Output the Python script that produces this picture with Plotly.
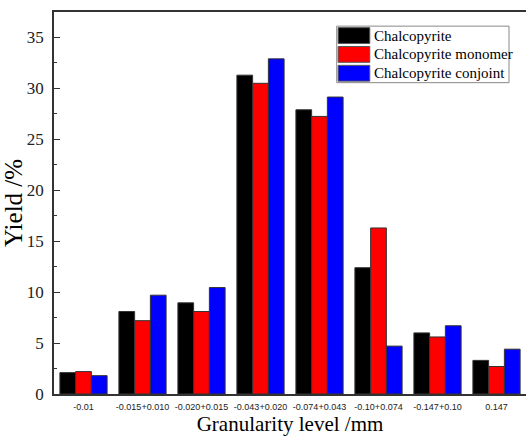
import plotly.graph_objects as go

categories = ["-0.01", "-0.015+0.010", "-0.020+0.015", "-0.043+0.020",
              "-0.074+0.043", "-0.10+0.074", "-0.147+0.10", "0.147"]
chalcopyrite = [2.1, 8.1, 8.95, 31.3, 27.9, 12.4, 6.0, 3.3]
monomer = [2.2, 7.2, 8.1, 30.5, 27.25, 16.3, 5.6, 2.7]
conjoint = [1.8, 9.7, 10.45, 32.9, 29.15, 4.7, 6.7, 4.4]
series_names = ["Chalcopyrite", "Chalcopyrite monomer", "Chalcopyrite conjoint"]
series_colors = ["#000000", "#ff0000", "#0000ff"]
series_values = [chalcopyrite, monomer, conjoint]

fig = go.Figure()
for name, vals, col in zip(series_names, series_values, series_colors):
    fig.add_trace(go.Bar(x=categories, y=vals, name=name, marker_color=col,
                         marker_line=dict(color="#333333", width=1), showlegend=False))

serif = "Liberation Serif, Times New Roman, serif"

# custom legend box
lx0, lx1, ly0, ly1 = 0.599, 0.964, 0.815, 0.963
fig.add_shape(type="rect", xref="paper", yref="paper", x0=lx0, x1=lx1, y0=ly0, y1=ly1,
              line=dict(color="#888888", width=1), fillcolor="white")
row_h = (ly1 - ly0) / 3
for i, (name, col) in enumerate(zip(series_names, series_colors)):
    top = ly1 - i * row_h
    fig.add_shape(type="rect", xref="paper", yref="paper", x0=0.602, x1=0.669,
                  y0=top - row_h + 0.004, y1=top - 0.004,
                  line=dict(color="#555555", width=1), fillcolor=col)
    fig.add_annotation(xref="paper", yref="paper", x=0.673, y=top - row_h / 2,
                       text=name, showarrow=False, xanchor="left", yanchor="middle",
                       font=dict(family=serif, size=15, color="black"))

fig.update_layout(
    width=526, height=437,
    margin=dict(l=54, r=0, t=12, b=43),
    paper_bgcolor="white", plot_bgcolor="white",
    barmode="group", bargap=0.2, bargroupgap=0,
    xaxis=dict(type="category", range=[-0.5, 7.5], showline=True, linecolor="#333333",
               linewidth=1.5, mirror=True, ticks="", showgrid=False, ticklabelstandoff=3,
               tickfont=dict(family="Liberation Sans, Arial", size=9, color="#222222"),
               title=dict(text="Granularity level /mm", font=dict(family=serif, size=21, color="black"),
                          standoff=6)),
    yaxis=dict(range=[0, 37.5], dtick=5, showline=True, linecolor="#333333", linewidth=1.5,
               ticks="inside", ticklen=6, tickcolor="#333333", showgrid=False, zeroline=False,
               ticklabelstandoff=5,
               minor=dict(dtick=2.5, ticks="inside", ticklen=3, tickcolor="#333333"),
               tickfont=dict(family=serif, size=17, color="#222222"),
               title=dict(text="Yield /%", font=dict(family=serif, size=25, color="black"),
                          standoff=4)),
)

fig.write_html("out.html", config={"displayModeBar": False},
               post_script="document.body.style.margin='0';document.body.style.overflow='hidden';")
